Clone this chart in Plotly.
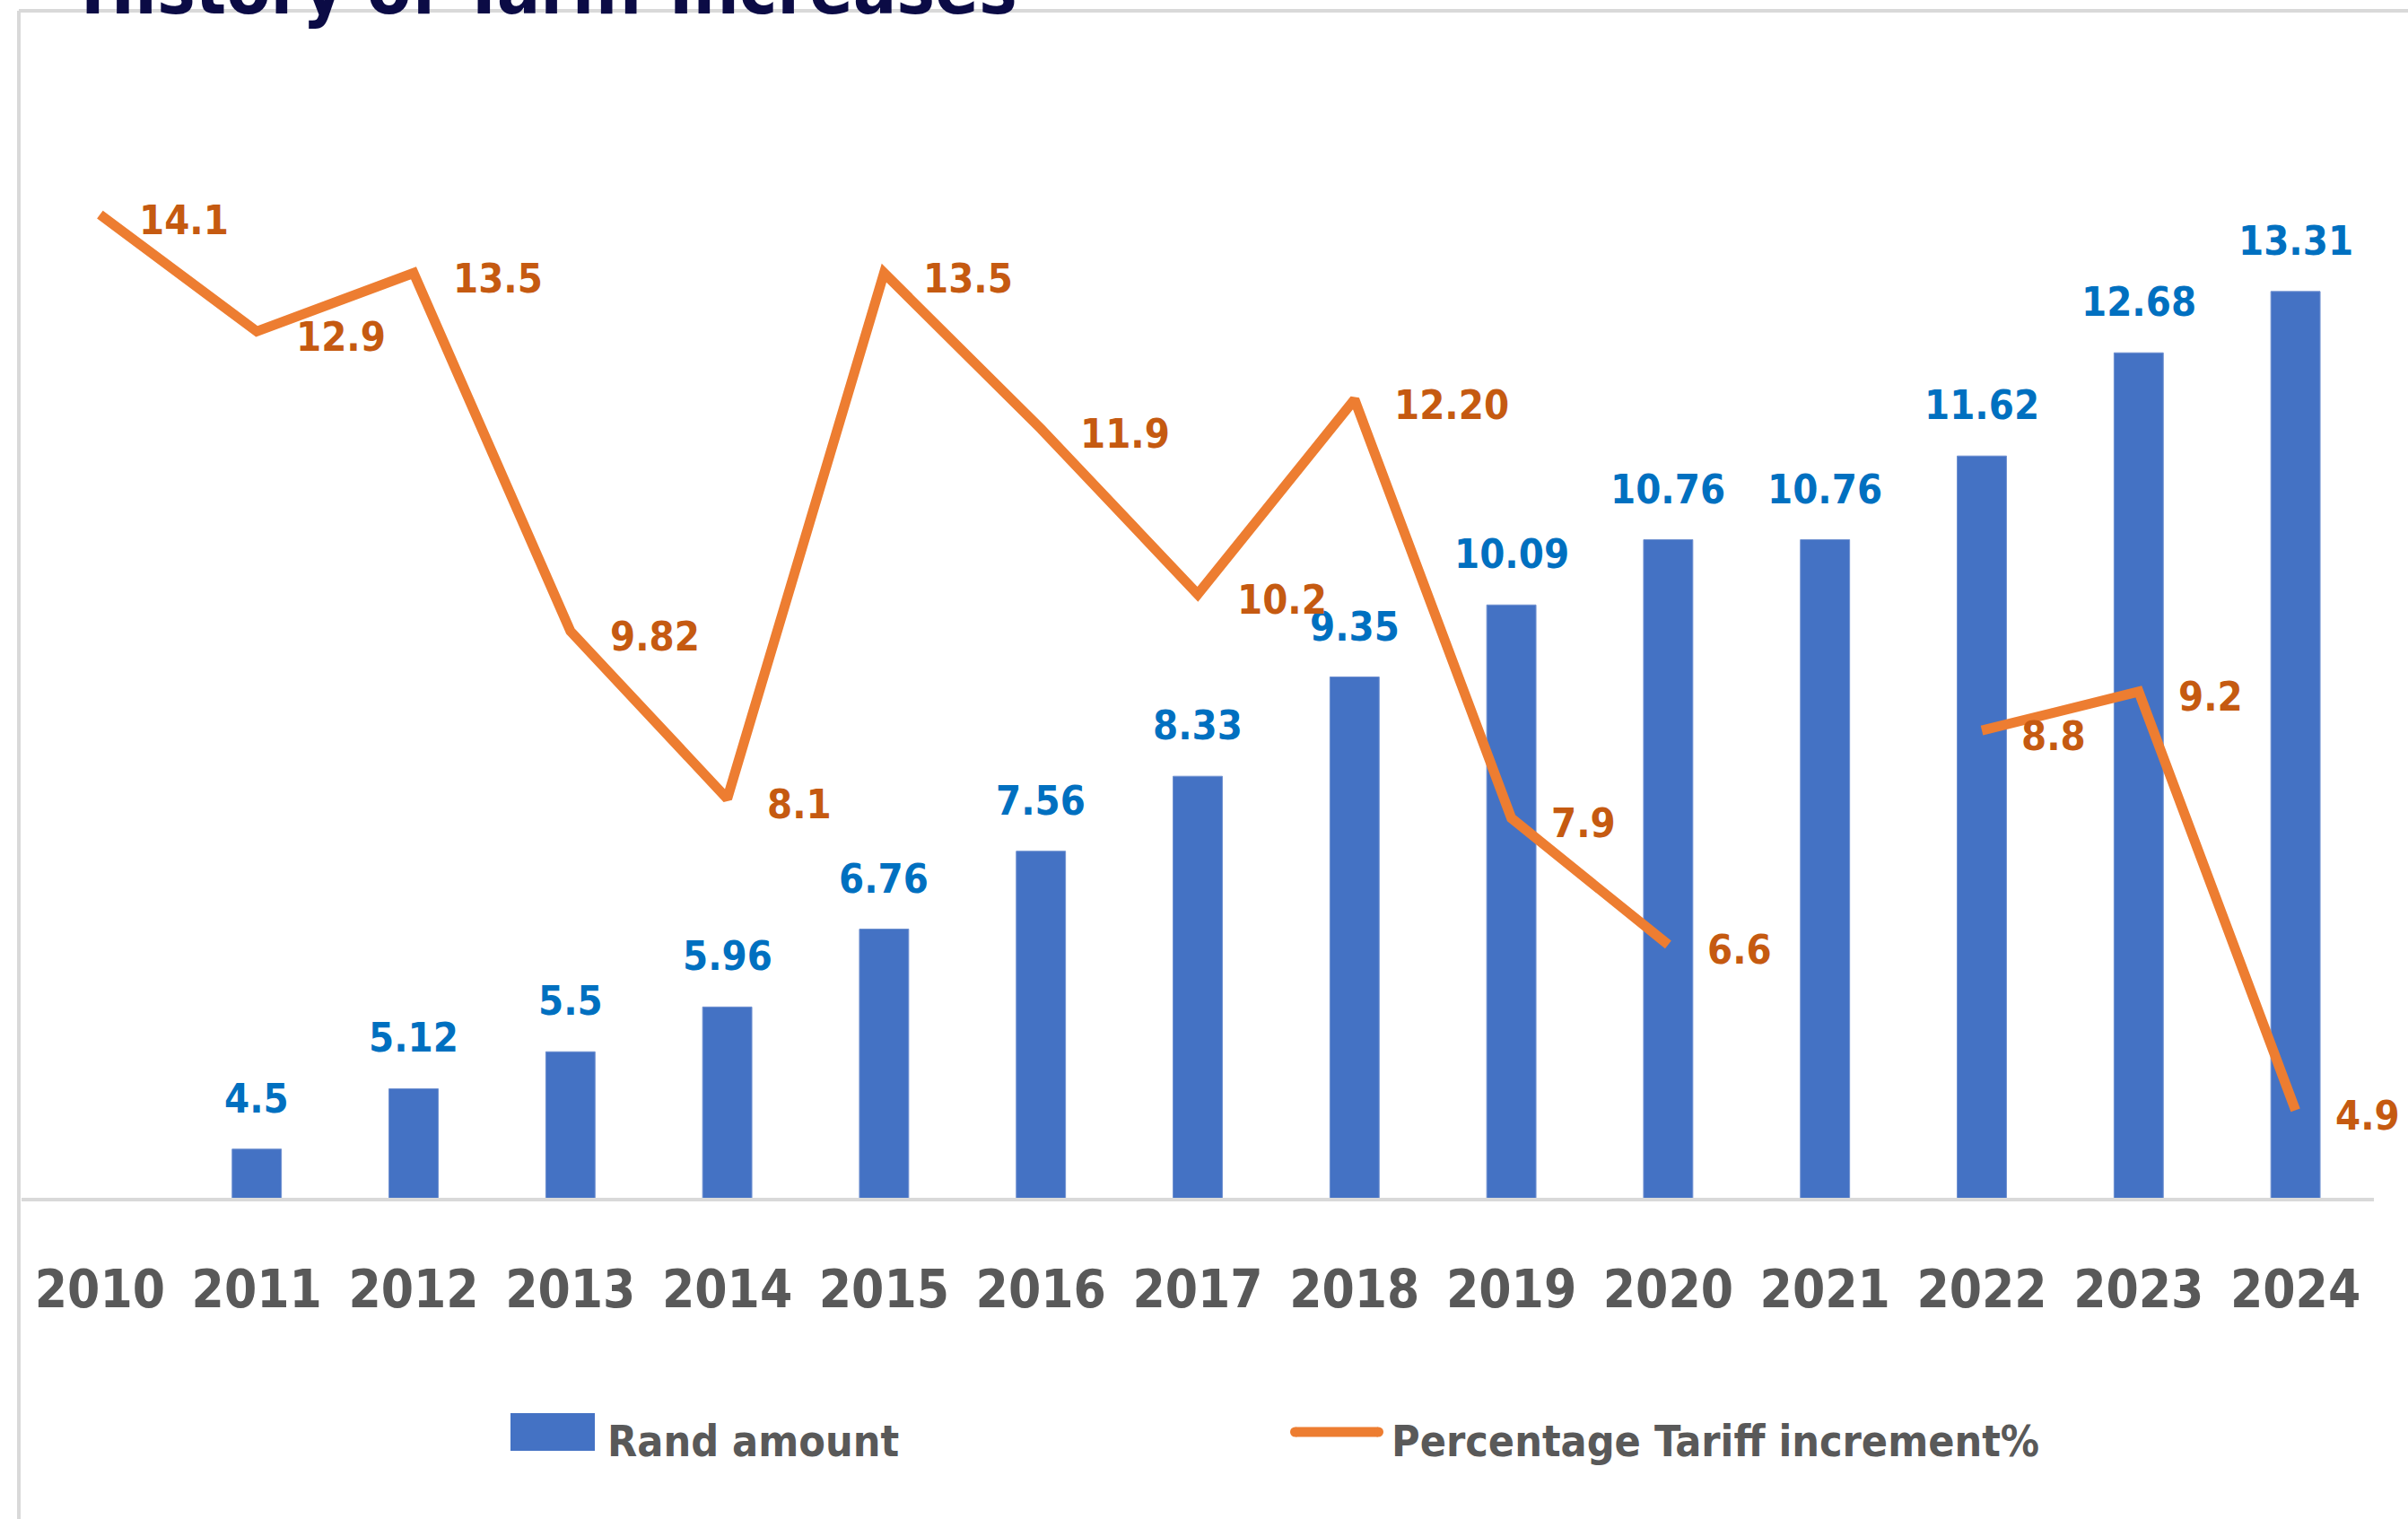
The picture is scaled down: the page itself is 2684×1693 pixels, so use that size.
import plotly.graph_objects as go

# ---- data -------------------------------------------------------------
years = [str(y) for y in range(2010, 2025)]
rand_amount = [None, 4.5, 5.12, 5.5, 5.96, 6.76, 7.56, 8.33, 9.35, 10.09,
               10.76, 10.76, 11.62, 12.68, 13.31]
pct_labels = ["14.1", "12.9", "13.5", "9.82", "8.1", "13.5", "11.9", "10.2",
              "12.20", "7.9", "6.6", None, "8.8", "9.2", "4.9"]
pct_values = [float(s) if s is not None else None for s in pct_labels]

TITLE = "History of Tariff Increases"
BAR_NAME = "Rand amount"
LINE_NAME = "Percentage Tariff increment%"

# ---- styling ----------------------------------------------------------
W, H = 2684, 1693
PLOT_L, PLOT_R, PLOT_T, PLOT_B = 24, 2646, 33, 1335
BAR_COLOR = "#4472C4"
BAR_LABEL_COLOR = "#0070C0"
LINE_COLOR = "#ED7D31"
LINE_LABEL_COLOR = "#C55A11"
AXIS_TEXT = "#595959"
FRAME = "#D9D9D9"
NARROW = "Liberation Sans Narrow, DejaVu Sans Condensed, sans-serif"


def px_x(px):
    return (px - PLOT_L) / (PLOT_R - PLOT_L)


def px_y(py):
    return (PLOT_B - py) / (PLOT_B - PLOT_T)


fig = go.Figure()

fig.add_trace(go.Bar(
    x=years, y=rand_amount, name=BAR_NAME, width=0.314,
    marker=dict(color=BAR_COLOR, line=dict(width=1, color="#6F90D0")),
    showlegend=False, hoverinfo="x+y",
))

fig.add_trace(go.Scatter(
    x=years, y=pct_values, name=LINE_NAME, mode="lines",
    line=dict(color=LINE_COLOR, width=11),
    connectgaps=False, showlegend=False, hoverinfo="x+y",
))

annotations = []

# value labels above the bars (x given as category index)
for i, v in enumerate(rand_amount):
    if v is None:
        continue
    annotations.append(dict(
        x=i, y=v, xref="x", yref="y", text=f"<b>{v:g}</b>", showarrow=False,
        xanchor="center", yanchor="bottom", yshift=28,
        font=dict(family=NARROW, size=45, color=BAR_LABEL_COLOR),
    ))

# value labels to the right of the line points
for i, (lab, v) in enumerate(zip(pct_labels, pct_values)):
    if v is None:
        continue
    annotations.append(dict(
        x=i, y=v, xref="x", yref="y", text=f"<b>{lab}</b>", showarrow=False,
        xanchor="left", yanchor="middle", xshift=42, yshift=-6,
        font=dict(family=NARROW, size=45, color=LINE_LABEL_COLOR),
    ))

# chart title (runs off the top edge of the frame)
TITLE_SIZE = 80
annotations.append(dict(
    x=px_x(88), y=px_y(15 - 0.3465 * TITLE_SIZE), xref="paper", yref="paper",
    text=f"<b>{TITLE}</b>", showarrow=False, xanchor="left", yanchor="middle",
    font=dict(family=NARROW, size=TITLE_SIZE, color="#0B0B45"),
))

# legend texts
LEG_SIZE = 48
for txt, x0 in [(BAR_NAME, 676), (LINE_NAME, 1550)]:
    annotations.append(dict(
        x=px_x(x0), y=px_y(1623 - 0.3465 * LEG_SIZE), xref="paper", yref="paper",
        text=f"<b>{txt}</b>", showarrow=False, xanchor="left", yanchor="middle",
        xshift=-1, font=dict(family=NARROW, size=LEG_SIZE, color=AXIS_TEXT),
    ))

shapes = [
    # outer chart frame (top and left edges)
    dict(type="line", xref="paper", yref="paper", x0=px_x(21), x1=px_x(2700),
         y0=px_y(12), y1=px_y(12), line=dict(color=FRAME, width=4)),
    dict(type="line", xref="paper", yref="paper", x0=px_x(21), x1=px_x(21),
         y0=px_y(12), y1=px_y(1700), line=dict(color=FRAME, width=4)),
    # legend keys
    dict(type="rect", xref="paper", yref="paper", x0=px_x(569), x1=px_x(663),
         y0=px_y(1617), y1=px_y(1575), fillcolor=BAR_COLOR, line=dict(width=0)),
    dict(type="line", xref="paper", yref="paper", x0=px_x(1444), x1=px_x(1536),
         y0=px_y(1596), y1=px_y(1596), line=dict(color=LINE_COLOR, width=11)),
    dict(type="circle", xref="paper", yref="paper", x0=px_x(1438), x1=px_x(1449),
         y0=px_y(1601.5), y1=px_y(1590.5), fillcolor=LINE_COLOR, line=dict(width=0)),
    dict(type="circle", xref="paper", yref="paper", x0=px_x(1531), x1=px_x(1542),
         y0=px_y(1601.5), y1=px_y(1590.5), fillcolor=LINE_COLOR, line=dict(width=0)),
]

fig.update_layout(
    width=W, height=H,
    margin=dict(l=PLOT_L, r=W - PLOT_R, t=PLOT_T, b=H - PLOT_B, pad=0,
                autoexpand=False),
    paper_bgcolor="white", plot_bgcolor="white",
    annotations=annotations, shapes=shapes,
    xaxis=dict(
        type="category", categoryorder="array", categoryarray=years,
        range=[-0.5, len(years) - 0.5], automargin=False, tickangle=0,
        showline=True, linecolor=FRAME, linewidth=4,
        ticks="", showgrid=False, zeroline=False,
        ticklabelstandoff=48,
        tickfont=dict(family=NARROW, size=58, color=AXIS_TEXT, weight="bold"),
    ),
    yaxis=dict(
        range=[4, 16], showgrid=False, zeroline=False, showline=False,
        showticklabels=False, ticks="", automargin=False,
    ),
    showlegend=False,
)

fig.write_html("out.html")
